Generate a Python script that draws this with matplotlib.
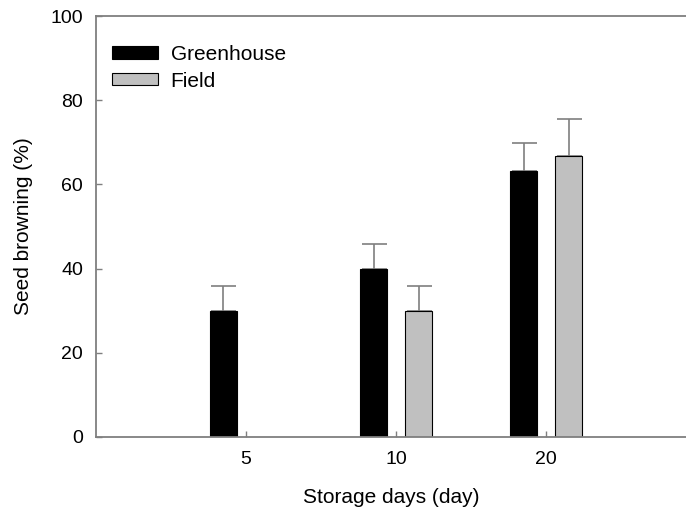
import numpy as np
import matplotlib.pyplot as plt

plt.rcParams['font.family'] = ['Liberation Sans', 'DejaVu Sans']

# Data
days = ['5', '10', '20']
greenhouse = [30.0, 40.0, 63.3]
greenhouse_err = [5.8, 5.8, 6.6]
field = [0.0, 30.0, 66.7]
field_err = [0.0, 5.8, 8.8]

x = np.arange(1, len(days) + 1)
width = 0.18
offset = 0.15
grey = '#7f7f7f'

fig = plt.figure(figsize=(6.86, 5.16), dpi=100)
ax = fig.add_axes([0.1395, 0.1537, 0.8605, 0.8147])

ax.bar(x - offset, greenhouse, width, color='black', edgecolor='black',
       linewidth=0.8, label='Greenhouse', zorder=2)
ax.errorbar(x - offset, greenhouse, yerr=[np.zeros(3), greenhouse_err],
            fmt='none', ecolor=grey, elinewidth=1.2, capsize=9,
            capthick=1.2, zorder=1)

# the field bar for day 5 is zero, so draw it only where it exists
fx = x + offset
mask = np.array(field) > 0
ax.bar(fx[mask], np.array(field)[mask], width, color='#c0c0c0',
       edgecolor='black', linewidth=0.8, label='Field', zorder=2)
ax.errorbar(fx[mask], np.array(field)[mask],
            yerr=[np.zeros(mask.sum()), np.array(field_err)[mask]],
            fmt='none', ecolor=grey, elinewidth=1.2, capsize=9,
            capthick=1.2, zorder=1)

ax.set_xlim(0, 3.93)
ax.set_ylim(0, 100)
ax.set_xticks(x)
ax.set_xticklabels(days)
ax.set_yticks([0, 20, 40, 60, 80, 100])

ax.spines['right'].set_visible(False)
for side in ['left', 'bottom', 'top']:
    ax.spines[side].set_color(grey)
    ax.spines[side].set_linewidth(1.3)

ax.tick_params(axis='both', direction='in', length=4, width=1, color=grey,
               labelsize=14)
ax.tick_params(axis='x', pad=10)
ax.tick_params(axis='y', pad=9)

ax.set_xlabel('Storage days (day)', fontsize=15, labelpad=15)
ax.set_ylabel('Seed browning (%)', fontsize=15, labelpad=13)

ax.legend(loc='upper left', bbox_to_anchor=(0.0276, 0.932), frameon=False,
          fontsize=15, handlelength=2.2, handleheight=0.53,
          labelspacing=0.37, handletextpad=0.62, borderaxespad=0,
          borderpad=0)

fig.savefig('out.png', dpi=100)
